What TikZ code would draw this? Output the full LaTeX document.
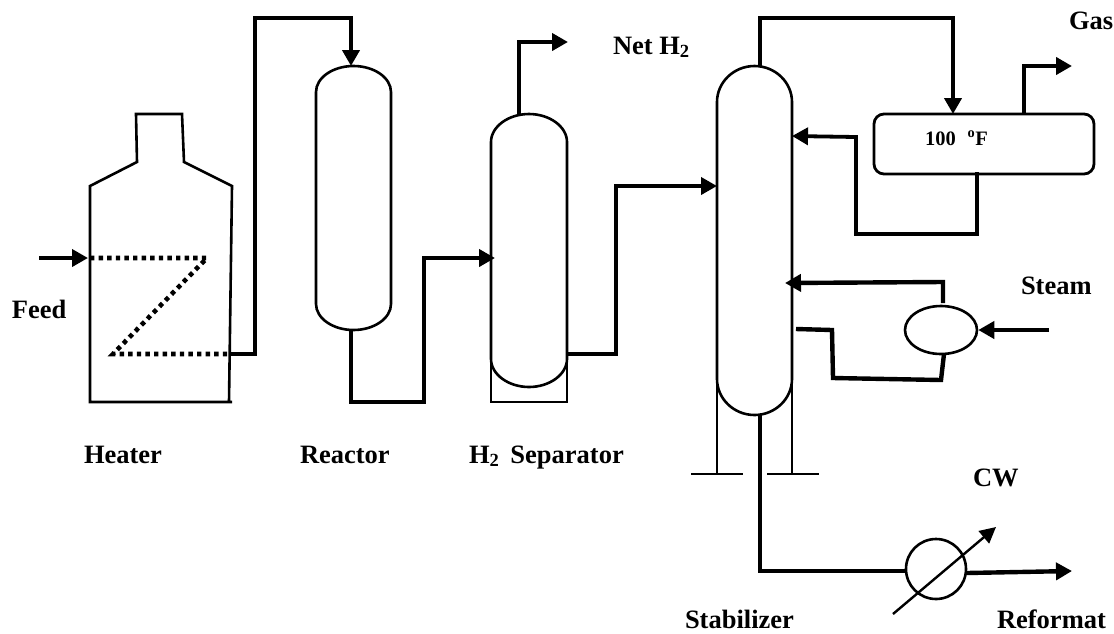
\documentclass[tikz,border=0pt]{standalone}
\usepackage{fontspec}
\setmainfont{Liberation Serif}
\usetikzlibrary{arrows.meta,shapes.geometric,calc}
\tikzset{
  thinline/.style={draw=black,line width=2.6pt,line join=miter},
  pipe/.style={draw=black,line width=4.4pt,line join=miter},
  pipemid/.style={draw=black,line width=3.8pt,line join=miter},
  flow/.style={-{Triangle[length=16pt,width=17pt]}},
  coil/.style={draw=black,line width=4.6pt,dash pattern=on 4.4pt off 4.2pt},
  vesselbox/.style={inner sep=0pt,outer sep=0pt,draw=none},
  lab/.style={anchor=base west,inner sep=0pt,outer sep=0pt,font=\fontsize{26.5pt}{28pt}\selectfont\bfseries},
  smalllab/.style={anchor=base west,inner sep=0pt,outer sep=0pt,font=\fontsize{20.5pt}{24pt}\selectfont\bfseries}
}
\newcommand{\capsuledraw}[3]{% node name, top head depth, bottom head depth
  \draw[thinline] ($(#1.north west)+(0,#2)$)
    .. controls ($(#1.north west)+(0,#2*0.45)$) and ($(#1.north)+(-20.6,0)$) .. (#1.north)
    .. controls ($(#1.north)+(20.6,0)$) and ($(#1.north east)+(0,#2*0.45)$) .. ($(#1.north east)+(0,#2)$)
    -- ($(#1.south east)+(0,-#3)$)
    .. controls ($(#1.south east)+(0,-#3*0.45)$) and ($(#1.south)+(20.6,0)$) .. (#1.south)
    .. controls ($(#1.south)+(-20.6,0)$) and ($(#1.south west)+(0,-#3*0.45)$) .. ($(#1.south west)+(0,-#3)$)
    -- cycle;
}
\begin{document}
\begin{tikzpicture}[x=1pt,y=-1pt]
\useasboundingbox (0,0) rectangle (1114,633);
% vessels: with y=-1pt, offsets below use screen sense (positive = down)
\node[vesselbox,minimum width=75pt,minimum height=264pt] (reactor) at (353.5,198) {};
\node[vesselbox,minimum width=76pt,minimum height=273pt] (separator) at (529,250.5) {};
\node[vesselbox,minimum width=75pt,minimum height=349pt] (stabilizer) at (754.5,240.5) {};
\capsuledraw{reactor}{26}{26}
\capsuledraw{separator}{28}{28}
\capsuledraw{stabilizer}{36}{36}
% heater
\draw[thinline] (232,402) -- (90,402) -- (90,186) -- (137,162) -- (136,114) -- (182,114) -- (184,162) -- (232,186) -- (229,402);
% saddle and skirts
\draw[thinline] (491,362) -- (491,402) -- (567,402) -- (567,362);
\draw[thinline] (717,380) -- (717,474);
\draw[thinline] (792,380) -- (792,474);
\draw[thinline] (691,474) -- (743,474);
\draw[thinline] (767,474) -- (819,474);
% equipment as nodes
\node[draw=black,line width=2.8pt,rounded corners=10pt,minimum width=220pt,minimum height=60pt,inner sep=0pt] (drum) at (984,144) {};
\node[draw=black,line width=2.6pt,ellipse,minimum width=72pt,minimum height=48pt,inner sep=0pt] (reboiler) at (941,330) {};
\node[draw=black,line width=2.6pt,circle,minimum size=60pt,inner sep=0pt] (cooler) at (936,569) {};
% ports
\coordinate (feedin) at (39,258);
\coordinate (feedtip) at (88,258);
\coordinate (heaterin) at (90,258);
\coordinate (coila) at (207,258);
\coordinate (coilb) at (113,354);
\coordinate (heaterout) at (230,354);
\coordinate (reactorin) at (351,66);
\coordinate (reactorout) at (351,330);
\coordinate (sepin) at (495,258);
\coordinate (septop) at (519,115);
\coordinate (netgas) at (568,42);
\coordinate (sepout) at (567,354);
\coordinate (stabin) at (717,186);
\coordinate (stabtop) at (760,67);
\coordinate (drumin) at (953,114);
\coordinate (drumtop) at (1024,114);
\coordinate (gasout) at (1072,66);
\coordinate (drumbot) at (977,172);
\coordinate (refluxin) at (792,136);
\coordinate (rebtop) at (943,303);
\coordinate (rebreturn) at (785,283);
\coordinate (drawoff) at (796,329);
\coordinate (rebbot) at (944,354);
\coordinate (steamin) at (1049,330);
\coordinate (stabbot) at (760,415);
\coordinate (coolerin) at (905,571);
\coordinate (coolerout) at (967,573);
\coordinate (cwin) at (893,614);
\coordinate (cwout) at (996,527);
\coordinate (reformat) at (1072,571);
% connectors
\draw[pipemid,flow] (feedin) -- (feedtip);
\draw[coil] (heaterin) -- (coila) -- (coilb) -- (heaterout);
\draw[pipe,flow] (heaterout) -- (255,354) -- (255,18) -- (351,18) -- (reactorin);
\draw[pipe,flow] (reactorout) -- (351,402) -- (424,402) -- (424,258) -- (sepin);
\draw[pipe,flow] (septop) -- (519,42) -- (netgas);
\draw[pipemid,flow] (sepout) -- (616,354) -- (616,186) -- (stabin);
\draw[pipe,flow] (stabtop) -- (760,18) -- (953,18) -- (drumin);
\draw[pipe,flow] (drumtop) -- (1024,66) -- (gasout);
\draw[pipemid,flow] (drumbot) -- (977,234) -- (856,234) -- (856,137) -- (refluxin);
\draw[pipe,flow] (rebtop) -- (943,282) -- (rebreturn);
\draw[pipe] (drawoff) -- (832,330) -- (833,378) -- (941,380) -- (rebbot);
\draw[pipe,flow] (steamin) -- (reboiler.east);
\draw[pipe] (stabbot) -- (760,571) -- (coolerin);
\draw[pipe,flow] (coolerout) -- (reformat);
\draw[line width=2.4pt,-{Triangle[length=16pt,width=16pt]}] (cwin) -- (cwout);
% labels
\node[lab] (lfeed) at (12,318) {Feed};
\node[lab] (lheater) at (84,463) {Heater};
\node[lab] (lreactor) at (300,463) {Reactor};
\node[lab] (lsep) at (469,463) {H\textsubscript{2}\, Separator};
\node[lab] (lnet) at (613,54) {Net H\textsubscript{2}};
\node[lab] (lgas) at (1069,29) {Gas};
\node[lab] (lsteam) at (1021,294) {Steam};
\node[lab] (lcw) at (973,486) {CW};
\node[lab] (lstab) at (685,628) {Stabilizer};
\node[lab] (lref) at (997,628) {Reformat};
\node[smalllab] (ltemp) at (925,145) {100\,\, \textsuperscript{o}F};
\end{tikzpicture}
\end{document}
